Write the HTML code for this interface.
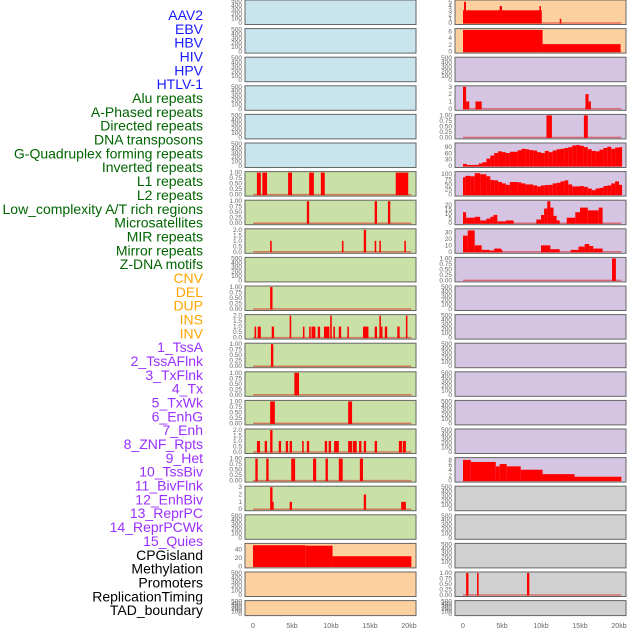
<!DOCTYPE html>
<html><head><meta charset="utf-8">
<style>
html,body{margin:0;padding:0;background:#fff;width:630px;height:630px;overflow:hidden}
svg{display:block;font-family:"Liberation Sans",sans-serif}
</style></head>
<body>
<svg id="chart" width="630" height="630" viewBox="0 0 630 630"></svg>
<script>
// ---------- data ----------
const trackLabels = ["AAV2","EBV","HBV","HIV","HPV","HTLV-1","Alu repeats","A-Phased repeats","Directed repeats","DNA transposons","G-Quadruplex forming repeats","Inverted repeats","L1 repeats","L2 repeats","Low_complexity A/T rich regions","Microsatellites","MIR repeats","Mirror repeats","Z-DNA motifs","CNV","DEL","DUP","INS","INV","1_TssA","2_TssAFlnk","3_TxFlnk","4_Tx","5_TxWk","6_EnhG","7_Enh","8_ZNF_Rpts","9_Het","10_TssBiv","11_BivFlnk","12_EnhBiv","13_ReprPC","14_ReprPCWk","15_Quies","CPGisland","Methylation","Promoters","ReplicationTiming","TAD_boundary"];
const labelGroups = [6,13,5,15,5];
const groupColors = ["#1a1aff","#006400","#ffa500","#9b30ff","#000000"];
const xTickLabels = ["0","5kb","10kb","15kb","20kb"];
const xTickValues = [0,5,10,15,20];

// left column panels: [start kb, end kb, value]
const left01 = [], left02 = [], left03 = [], left04 = [], left05 = [], left06 = [];
const left07 = [[0.5,1.0,1],[1.2,1.8,1],[4.5,5.0,1],[7.2,7.8,1],[8.7,9.2,1],[18.3,19.9,1]];
const left08 = [[6.9,7.2,1],[15.6,15.9,1],[17.3,17.6,1]];
const left09 = [[2.2,2.4,1],[11.4,11.6,1],[14.2,14.5,2],[15.6,15.8,1],[16.2,16.4,1],[19.4,19.6,1]];
const left10 = [];
const left11 = [[2.2,2.5,1]];
const left12 = [[0.2,0.4,1],[0.6,1.0,1],[2.4,2.7,1],[4.7,4.9,2],[6.4,6.6,1],[7.2,7.4,1],[7.5,8.0,1],[8.3,8.6,1],[9.1,9.8,1],[9.9,10.1,2],[10.3,10.5,1],[11.0,11.3,1],[12.1,12.3,1],[14.1,14.8,1],[15.6,15.9,1],[16.2,16.4,2],[16.4,16.6,1],[16.9,17.2,1],[18.5,18.8,1],[19.6,19.8,2]];
const left13 = [[2.3,2.6,1]];
const left14 = [[5.3,5.9,1]];
const left15 = [[2.2,2.8,1],[12.2,12.7,1]];
const left16 = [[0.5,0.9,1],[1.5,1.8,1],[2.2,2.5,2],[3.3,3.6,1],[4.2,4.5,1],[4.7,5.0,1],[6.3,6.5,1],[6.9,7.2,1],[9.2,9.5,1],[9.7,10.0,1],[10.4,11.0,1],[12.2,12.7,1],[12.8,13.3,1],[13.6,13.9,1],[14.2,14.5,1],[15.6,15.9,1],[18.7,19.1,1],[19.2,19.6,1]];
const left17 = [[0.3,0.6,1],[1.7,2.0,1],[4.9,5.4,1],[7.7,8.1,1],[9.3,9.6,1],[11.0,11.5,1],[13.7,14.1,1]];
const left18 = [[2.2,2.5,3],[2.5,2.6,1],[4.7,5.0,1],[14.2,14.5,2],[19.0,19.6,1]];
const left19 = [];
const left20 = [[0,6.7,50],[6.7,10.2,49],[10.2,20.3,24]];
const left21 = [], left22 = [];

// right column panels
const right01 = [[0,10.1,3],[0.13,0.38,5],[4.7,5.0,4],[9.8,10.0,4],[12.4,12.6,1]];
const right02 = [[0,10.2,6.4],[10.2,20.2,2.2]];
const right03 = [];
const right04 = [[0,0.4,3],[0.4,0.8,1],[1.6,2.4,1],[15.7,16.1,2],[16.1,16.4,1]];
const right05 = [[10.7,11.4,1],[15.5,16.0,1]];
const right06 = [[0,0.5,10],[0.5,2,5],[2,2.5,12],[2.5,3,18],[3,3.5,35],[3.5,4,50],[4,4.5,62],[4.5,5,70],[5,5.5,66],[5.5,6,62],[6,7,68],[7,7.5,75],[7.5,8,82],[8,8.5,80],[8.5,9,76],[9,9.5,74],[9.5,10,66],[10,10.5,62],[10.5,11,72],[11,11.5,66],[11.5,12,74],[12,12.5,80],[12.5,13,82],[13,13.5,86],[13.5,14,90],[14,14.5,98],[14.5,15,100],[15,15.5,96],[15.5,16,90],[16,16.5,80],[16.5,17,72],[17,17.5,70],[17.5,18,78],[18,18.5,86],[18.5,19,92],[19,19.5,82],[19.5,20,88],[20,20.4,90]];
const right07 = [[0,0.3,85],[0.3,1,92],[1,1.5,90],[1.5,2.2,105],[2.2,3,100],[3,3.5,90],[3.5,4,72],[4,4.5,70],[4.5,5,62],[5,5.5,55],[5.5,6,48],[6,7,62],[7,7.5,60],[7.5,8,55],[8,9,50],[9,9.5,45],[9.5,10,40],[10,10.5,45],[10.5,11,47],[11,11.5,48],[11.5,12,55],[12,12.5,58],[12.5,13,65],[13,13.5,70],[13.5,14,50],[14,15,40],[15,15.5,42],[15.5,16,38],[16,16.5,30],[16.5,17,22],[17,17.5,30],[17.5,18,33],[18,18.5,42],[18.5,19,45],[19,19.5,55],[19.5,20,65],[20,20.4,48]];
const right08 = [[0,0.4,12],[0.4,1.5,6],[1.5,2.2,7],[2.2,3,3],[3,3.5,5],[3.5,3.9,7],[3.9,4.4,9],[4.4,5.5,2],[5.5,6.5,3],[9.4,10.0,4],[10.0,10.4,9],[10.4,10.8,16],[10.8,11.2,24],[11.2,11.6,17],[11.6,12.0,8],[12.0,12.4,3],[13.3,14.4,6],[14.4,15,12],[15,16,17],[16,17.4,14],[17.4,17.9,17]];
const right09 = [[0,0.6,25],[0.6,1.5,33],[1.5,2.4,10],[2.4,3.4,3],[3.4,4.0,2],[4.0,4.9,5],[4.9,5.0,3],[10.0,11.2,10],[11.2,12.4,4],[13.8,14.8,3],[14.8,15.6,8],[15.6,16.2,12],[16.2,16.7,9],[16.7,17.9,5]];
const right10 = [[19.1,19.6,1]];
const right11 = [], right12 = [], right13 = [], right14 = [], right15 = [], right16 = [];
const right17 = [[0,1,8],[1,4.2,7.2],[4.2,4.7,5.5],[4.7,5.6,6.4],[5.6,7.4,5.5],[7.4,10.2,4.2],[10.2,14.3,2.5],[14.3,20.3,1.5]];
const right18 = [], right19 = [], right20 = [];
const right21 = [[0.4,0.7,1],[1.8,2.0,1],[8.2,8.5,1]];
const right22 = [];

// y tick sets
const ticksEmpty = [0,100,200,300,400,500];
const ticksUnit = [0,0.25,0.5,0.75,1];
const ticksTwo = [0,0.5,1,1.5,2];
const leftTicks = [ticksEmpty,ticksEmpty,ticksEmpty,ticksEmpty,ticksEmpty,ticksEmpty,ticksUnit,ticksUnit,ticksTwo,ticksEmpty,ticksUnit,ticksTwo,ticksUnit,ticksUnit,ticksUnit,ticksTwo,ticksUnit,[0,1,2,3],ticksEmpty,[0,20,40],ticksEmpty,ticksEmpty];
const leftMax = [500,500,500,500,500,500,1,1,2,500,1,2,1,1,1,2,1,3,500,52,500,500];
const rightTicks = [[0,1,2,3,4,5],[0,2,4,6],ticksEmpty,[0,1,2,3],ticksUnit,[0,30,60,90],[0,25,50,75,100],[0,5,10,15,20],[0,10,20,30],ticksUnit,ticksEmpty,ticksEmpty,ticksEmpty,ticksEmpty,ticksEmpty,ticksEmpty,[0,2,4,6,8],ticksEmpty,ticksEmpty,ticksEmpty,ticksUnit,ticksEmpty];
const rightMax = [5.2,6.5,500,3,1,105,108,24,34,1,500,500,500,500,500,500,8.5,500,500,500,1,500];
const leftBg = ["#c8e4ec","#c8e4ec","#c8e4ec","#c8e4ec","#c8e4ec","#c8e4ec","#c9e1a6","#c9e1a6","#c9e1a6","#c9e1a6","#c9e1a6","#c9e1a6","#c9e1a6","#c9e1a6","#c9e1a6","#c9e1a6","#c9e1a6","#c9e1a6","#c9e1a6","#fdd09f","#fdd09f","#fdd09f"];
const rightBg = ["#fdd09f","#fdd09f","#d6c5e2","#d6c5e2","#d6c5e2","#d6c5e2","#d6c5e2","#d6c5e2","#d6c5e2","#d6c5e2","#d6c5e2","#d6c5e2","#d6c5e2","#d6c5e2","#d6c5e2","#d6c5e2","#d6c5e2","#d0d0d0","#d0d0d0","#d0d0d0","#d0d0d0","#d0d0d0"];

const leftData = [left01,left02,left03,left04,left05,left06,left07,left08,left09,left10,left11,left12,left13,left14,left15,left16,left17,left18,left19,left20,left21,left22];
const rightData = [right01,right02,right03,right04,right05,right06,right07,right08,right09,right10,right11,right12,right13,right14,right15,right16,right17,right18,right19,right20,right21,right22];

// ---------- drawing ----------
const NS = "http://www.w3.org/2000/svg";
const svg = document.getElementById("chart");
function mk(tag, attrs, parent){
  const e = document.createElementNS(NS, tag);
  for (const k in attrs) e.setAttribute(k, attrs[k]);
  (parent||svg).appendChild(e);
  return e;
}
function fmt(v){ return (Math.abs(v) < 5 && !Number.isInteger(v)) || (v<=1 && v>0 && v%1!==0) ? v.toFixed(2) : String(v); }

// labels
let li = 0;
labelGroups.forEach((n, g) => {
  for (let i = 0; i < n; i++, li++) {
    const t = mk("text", {x:203, y:15 + li*13.84 + 5, "text-anchor":"end", "font-size":"14", fill:groupColors[g]});
    t.textContent = trackLabels[li];
    
    
  }
});

function drawPanel(px, row, data, ticks, ymax, bg, side){
  const top = row*28.6;
  const h = row === 21 ? 15 : 24.5;
  const w = 171;
  const g = mk("g", {});
  
  
  mk("rect", {x:px, y:top, width:w, height:h, fill:bg, stroke:"#666", "stroke-width":1}, g);
  const x0 = px + 8, kbPx = 7.8;
  const xs = kb => x0 + kb*kbPx;
  const yb = top + h - 1.5, yt = top + 1;
  const ys = v => yb - (v/ymax)*(yb-yt);
  // ticks
  const isFrac = ticks.some(t => t % 1 !== 0);
  ticks.forEach(t => {
    const lab = mk("text", {x:px-3, y:ys(t)+2, "text-anchor":"end", "font-size":"6.5", fill:"#666"}, g);
    lab.textContent = isFrac ? (ticks[ticks.length-1] === 1 ? t.toFixed(2) : t.toFixed(1)) : String(t);
    
    
  });
  if (data.length) {
    mk("line", {x1:xs(0), x2:xs(20.3), y1:yb, y2:yb, stroke:"rgba(220,0,0,0.45)", "stroke-width":1.5}, g);
  }
  data.forEach(d => {
    const y = ys(d[2]);
    const b = mk("rect", {x:xs(d[0]), y:y, width:Math.max(1.2, xs(d[1])-xs(d[0])), height:yb - y + 0.5, fill:"#ff0000"}, g);
    
    
  });
}
for (let r = 0; r < 22; r++) {
  drawPanel(245, r, leftData[r], leftTicks[r], leftMax[r], leftBg[r], 'left');
  drawPanel(455, r, rightData[r], rightTicks[r], rightMax[r], rightBg[r], 'right');
}
// x ticks
[245,455].forEach((px, ci) => {
  xTickValues.forEach((v, i) => {
    const t = mk("text", {x:px+8+v*7.8, y:628, "text-anchor":"middle", "font-size":"7", fill:"#666"});
    t.textContent = xTickLabels[i];
    
    
  });
});
</script>
</body></html>
